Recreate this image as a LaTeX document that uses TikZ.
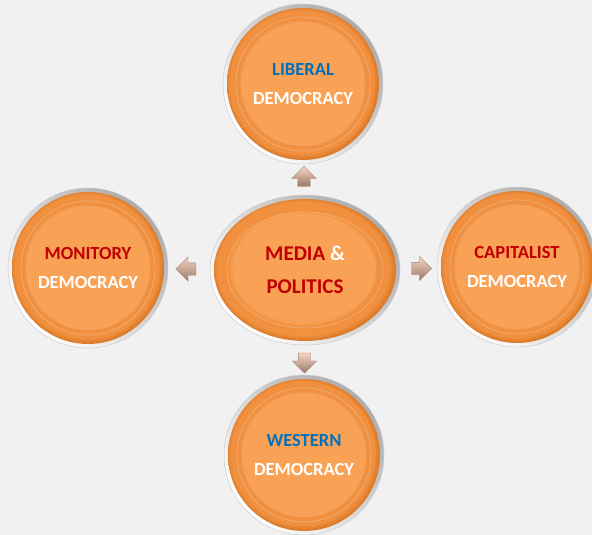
\documentclass[tikz,border=0pt]{standalone}
\usepackage{fontspec}
\setmainfont{Carlito}
\usepackage{tikz}
\usetikzlibrary{shapes.geometric,shapes.arrows,calc,positioning}

\definecolor{bgc}{HTML}{F1F1F1}
\definecolor{orlight}{HTML}{F9A256}
\definecolor{ormid}{HTML}{F1913F}
\definecolor{ordark}{HTML}{DC7B2A}
\definecolor{txtred}{HTML}{C00000}
\definecolor{txtblue}{HTML}{0070C0}
\definecolor{arrlight}{HTML}{F7D4C0}
\definecolor{arrdark}{HTML}{8A6252}

\pgfdeclareradialshading{bevel}{\pgfpoint{-1bp}{1bp}}{color(0bp)=(orlight); color(19bp)=(orlight); color(20.5bp)=(ormid); color(23.5bp)=(ormid); color(25bp)=(ordark); color(50bp)=(ordark)}

\begin{document}
\begin{tikzpicture}[x=1pt,y=-1pt]

\tikzset{
  rimc/.style={circle,inner sep=0pt,minimum size=160pt,top color=gray!65,bottom color=white,shading angle=-45,draw=gray!40,line width=0.5pt},
  bodyc/.style={circle,inner sep=0pt,minimum size=152pt,shading=bevel},
  ringc/.style={circle,inner sep=0pt,minimum size=134pt,draw=ordark!50,line width=0.4pt},
  innerc/.style={circle,inner sep=0pt,minimum size=124pt,fill=orlight,draw=ordark!70,line width=0.5pt,
    align=center,font=\bfseries\fontsize{18.5}{29}\selectfont},
  rime/.style={ellipse,inner sep=0pt,minimum width=190pt,minimum height=150pt,top color=gray!65,bottom color=white,shading angle=-45,draw=gray!40,line width=0.5pt},
  bodye/.style={ellipse,inner sep=0pt,minimum width=182pt,minimum height=142pt,shading=bevel},
  ringe/.style={ellipse,inner sep=0pt,minimum width=156pt,minimum height=116pt,draw=ordark!50,line width=0.4pt},
  innere/.style={ellipse,inner sep=0pt,minimum width=142pt,minimum height=104pt,fill=orlight,draw=ordark!70,line width=0.5pt,
    align=center,font=\bfseries\fontsize{21}{33}\selectfont},
  arr/.style={single arrow,inner sep=6pt,minimum height=20pt,minimum width=24pt,single arrow head extend=6pt,
    top color=arrlight,bottom color=arrdark!85,draw=arrdark!80,line width=0.3pt}
}

\useasboundingbox (0,0) rectangle (592,535);
\clip (0,0) rectangle (592,535);
\fill[bgc] (0,0) rectangle (592,535);

% centre
\node[rime] (media-rim) at (305,270) {};
\node[bodye] at (media-rim) {};
\node[ringe] at (media-rim) {};
\node[innere] (media) at (media-rim) {\textcolor{txtred}{MEDIA} \textcolor{white}{\&}\\\textcolor{txtred}{POLITICS}};

% the four democracies
\foreach \nm/\px/\py/\clr/\wrd in {liberal/303/84/txtblue/LIBERAL,
    capitalist/517/267/txtred/CAPITALIST,
    western/304/455/txtblue/WESTERN,
    monitory/88/268/txtred/MONITORY}
{
  \node[rimc] (\nm-rim) at (\px,\py) {};
  \node[bodyc] at (\nm-rim) {};
  \node[ringc] at (\nm-rim) {};
  \node[innerc] (\nm) at (\nm-rim) {\textcolor{\clr}{\wrd}\\\textcolor{white}{DEMOCRACY}};
}

% block arrows
\node[arr,shape border rotate=90] (to-liberal) at ($(media-rim.north)!0.5!(liberal-rim.south)$) {};
\node[arr,shape border rotate=270] (to-western) at ($(media-rim.south)!0.5!(western-rim.north)$) {};
\node[arr,shape border rotate=0] (to-capitalist) at ($(media-rim.east)!0.5!(capitalist-rim.west)$) {};
\node[arr,shape border rotate=180] (to-monitory) at ($(media-rim.west)!0.5!(monitory-rim.east)$) {};

\end{tikzpicture}
\end{document}
